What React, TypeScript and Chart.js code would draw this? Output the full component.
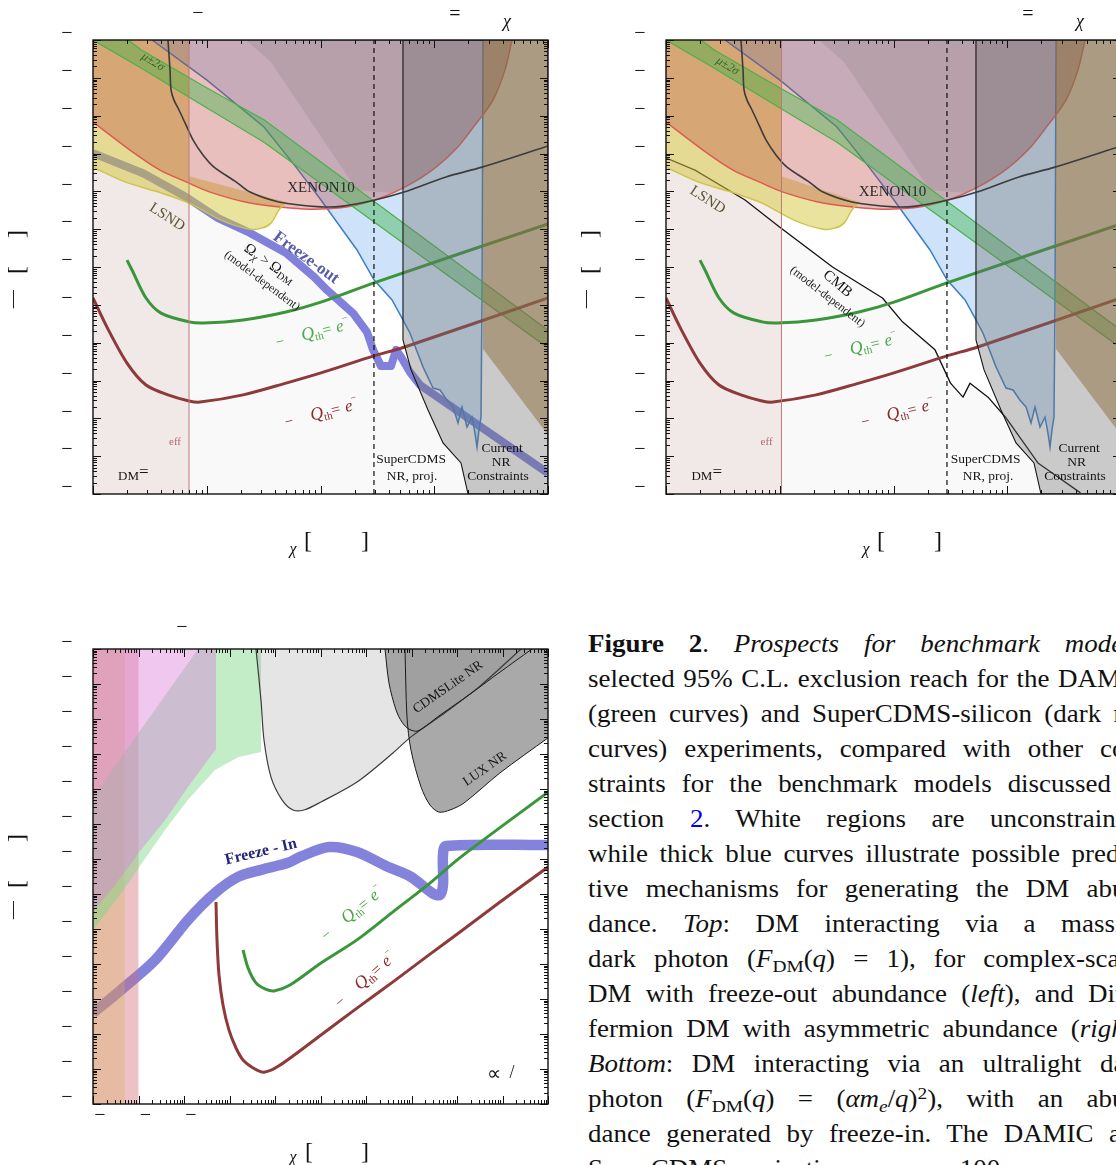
import React, { useEffect, useRef } from "react";
import { Chart, registerables } from "chart.js";

Chart.register(...registerables);

const SERIF = '"Liberation Serif", "Times New Roman", serif';

// ---------------------------------------------------------------------------
// Axis ranges, in decades (log10). Masses in MeV, cross-sections in cm^2.
// ---------------------------------------------------------------------------
const topMassDecades = [0, 4];
const topSigmaDecades = [-46, -34];
const bottomMassDecades = [-3, 7];
const bottomSigmaDecades = [-45, -32];

// ---------------------------------------------------------------------------
// Top panels (heavy dark photon). Every pair below is log10(m), log10(sigma).
// ---------------------------------------------------------------------------
const nEffScalar = 0.844;
const nEffDirac = 1.015;
const superCdmsNrProj = 2.47;

const xenon10M = [0.659, 0.677, 0.686, 0.712, 0.756, 0.818, 0.879, 0.967, 1.064, 1.257, 1.38, 1.635, 2.004, 2.198, 2.479, 2.734, 3.103, 3.42, 4];
const xenon10S = [-34, -34.79, -35.32, -35.59, -35.85, -36.25, -36.64, -37.04, -37.36, -37.75, -38.02, -38.28, -38.41, -38.39, -38.23, -38.02, -37.62, -37.36, -36.8];

const redRegionM = [0, 0.325, 0.589, 0.818, 1.029, 1.38, 1.732, 2.004, 2.321, 2.637, 2.945, 3.182, 3.358, 3.516, 3.622, 3.684];
const redRegionS = [-36.17, -36.91, -37.44, -37.75, -38.02, -38.31, -38.44, -38.47, -38.36, -38.04, -37.52, -36.91, -36.25, -35.59, -34.79, -34];

const lsndEdgeM = [0, 0.281, 0.598, 0.844, 1.125, 1.38, 1.486, 1.565, 1.635, 1.697];
const lsndEdgeS = [-37.36, -37.75, -38.04, -38.31, -38.76, -39.0, -38.97, -38.84, -38.49, -38.28];
const lsndCapS = [-37.6, -34, -34];

const darkGrayM = [1.345, 1.565, 2.321, 2.637, 2.945, 3.182, 3.358, 3.516, 3.622, 3.684];
const darkGrayS = [-34, -34.58, -37.97, -38.04, -37.52, -36.91, -36.25, -35.59, -34.79, -34];

const bandUpperM = [0.308, 0.422, 1.002, 1.503, 4];
const bandUpperS = [-34, -34.26, -35.27, -36.11, -41.67];
const bandLowerM = [0, 0.422, 1.002, 1.503, 4];
const bandLowerS = [-34, -34.74, -35.8, -36.7, -42.14];

const blueM = [0.519, 1.002, 1.503, 1.785, 2.004, 2.321, 2.47, 2.629, 2.725, 2.787, 2.901, 2.989, 3.051, 3.112, 3.165, 3.209, 3.244, 3.288, 3.332, 3.358, 3.376, 3.393, 3.411, 3.42, 3.429];
const blueS = [-34, -35.06, -36.3, -37.36, -38.23, -39.55, -40.34, -40.87, -41.4, -41.75, -42.64, -43.2, -43.25, -43.52, -43.7, -44.12, -43.7, -44.23, -43.97, -44.39, -44.76, -44.31, -43.97, -40.87, -34];

const nrM = [2.725, 2.725, 2.796, 2.945, 3.077, 3.235, 3.297, 4, 4];
const nrS = [-34, -41.93, -42.72, -43.78, -44.65, -45.18, -46, -46, -34];

const brownM = [3.429, 4, 4, 3.429];
const brownS = [-34, -34, -44.44, -42.17];

const freezeOutM = [0, 0.44, 0.818, 1.099, 1.38, 1.697, 1.943, 2.057, 2.286, 2.409, 2.462, 2.532, 2.62, 2.664, 2.708, 2.787, 2.875, 4];
const freezeOutS = [-36.99, -37.52, -38.15, -38.71, -39.1, -39.63, -40.26, -40.61, -41.22, -41.72, -42.19, -42.62, -42.62, -42.19, -42.38, -42.78, -43.12, -45.45];

const cmbM = [0.004, 0.255, 0.695, 0.998, 1.464, 1.903, 2.079, 2.365, 2.501, 2.611, 2.673, 2.831, 2.985, 3.27, 3.644];
const cmbS = [-37.12, -37.44, -38.23, -38.94, -40.0, -40.82, -41.45, -42.19, -43.07, -43.44, -43.07, -43.44, -43.97, -45.18, -45.97];

const damicTopM = [0.299, 0.343, 0.466, 0.598, 0.844, 0.976, 1.319, 1.697, 2.004, 2.47, 4];
const damicTopS = [-39.82, -40.08, -40.82, -41.22, -41.45, -41.48, -41.4, -41.19, -40.93, -40.42, -38.86];

const scdmsTopM = [0, 0.123, 0.299, 0.466, 0.659, 0.844, 0.941, 1.319, 1.697, 2.004, 2.47, 2.734, 4];
const scdmsTopS = [-40.82, -41.59, -42.54, -43.12, -43.38, -43.54, -43.57, -43.38, -43.07, -42.8, -42.35, -42.12, -40.82];

// ---------------------------------------------------------------------------
// Bottom panel (ultralight dark photon, freeze-in).
// ---------------------------------------------------------------------------
const pinkBandM = [-3, -2];
const tanBandM = [-3, -2.303];

const greenRegionM = [-3, -2.0, -0.692, 0.692, 0.692, 0.187, -0.319, -0.912, -1.418, -2.0, -2.407, -3];
const greenRegionS = [-36.23, -34.4, -32, -32, -34.94, -35.09, -35.46, -36.31, -37.17, -38.26, -39.03, -40.03];

const violetRegionM = [-3, -0.297, -0.297, -0.912, -1.418, -2.0, -2.516, -3];
const violetRegionS = [-32, -32, -34.86, -35.94, -36.89, -37.83, -38.74, -39.51];

const xenonNrM = [0.582, 0.692, 0.758, 0.912, 1.154, 1.396, 1.637, 2.011, 2.802, 3.593, 3.989, 4.758, 5.505, 6.407];
const xenonNrS = [-32, -33.46, -34.6, -35.66, -36.31, -36.6, -36.6, -36.37, -35.8, -34.97, -34.51, -33.8, -33.06, -32];

const cdmsLiteM = [3.418, 3.505, 3.659, 3.791, 3.945, 4.143, 4.626, 5.286, 5.945, 6.648];
const cdmsLiteS = [-32, -32.97, -33.74, -34.09, -34.29, -34.34, -33.89, -33.29, -32.66, -32];

const luxM = [3.857, 3.901, 3.989, 4.209, 4.407, 4.604, 4.846, 5.154, 5.945, 7];
const luxS = [-32, -33.94, -34.89, -35.94, -36.46, -36.66, -36.6, -36.4, -35.54, -34.54];

const freezeInM = [-3, -2.385, -1.637, -0.912, -0.319, 0.187, 0.692, 1.286, 1.549, 2.187, 2.802, 3.44, 3.989, 4.451, 4.626, 4.692, 4.692, 4.758, 7];
const freezeInS = [-42.4, -41.74, -40.89, -39.74, -38.97, -38.51, -38.31, -38.11, -37.94, -37.66, -37.8, -38.2, -38.51, -38.97, -39.03, -38.74, -37.89, -37.63, -37.6];

const damicBottomM = [0.297, 0.407, 0.582, 0.78, 0.978, 1.33, 2.011, 2.802, 3.593, 4.385, 5.088, 7];
const damicBottomS = [-40.6, -41.11, -41.54, -41.71, -41.77, -41.6, -40.97, -40.31, -39.51, -38.71, -37.94, -36.09];

const scdmsBottomM = [-0.297, -0.275, -0.231, -0.143, -0.011, 0.143, 0.297, 0.56, 0.758, 1.088, 2.011, 2.802, 3.593, 4.385, 5.154, 5.945, 7];
const scdmsBottomS = [-39.23, -40.31, -41.31, -42.17, -42.89, -43.4, -43.74, -44.0, -44.09, -43.91, -43.03, -42.26, -41.51, -40.74, -40.0, -39.23, -38.23];

// ---------------------------------------------------------------------------
// Dataset helpers
// ---------------------------------------------------------------------------
type P = { x: number; y: number };
const pts = (m: number[], s: number[]): P[] => m.map((v, i) => ({ x: 10 ** v, y: 10 ** s[i] }));
const closed = (m: number[], s: number[]): P[] => {
  const p = pts(m, s);
  p.push({ ...p[0] });
  return p;
};
const box = (m: number[], s: number[]): P[] => closed([m[0], m[1], m[1], m[0]], [s[0], s[0], s[1], s[1]]);
const vline = (m: number, s: number[]): P[] => pts([m, m], s);

function region(data: P[], bg: string, extra: any = {}) {
  return { data, backgroundColor: bg, borderColor: "rgba(0,0,0,0)", borderWidth: 0, fill: "shape", tension: 0, pointRadius: 0, ...extra };
}
function curve(data: P[], color: string, width: number, extra: any = {}) {
  return {
    data,
    borderColor: color,
    borderWidth: width,
    backgroundColor: "rgba(0,0,0,0)",
    fill: false,
    tension: 0.3,
    pointRadius: 0,
    borderJoinStyle: "round",
    borderCapStyle: "butt",
    ...extra,
  };
}
// layers listed bottom -> top
const stack = (layers: any[]) => layers.map((d, i) => ({ ...d, order: layers.length - i }));

function topLayers(variant: "freeze" | "asym") {
  const nEff = variant === "freeze" ? nEffScalar : nEffDirac;
  const sRange = topSigmaDecades;
  const relic =
    variant === "freeze"
      ? curve(pts(freezeOutM, freezeOutS), "#8181db", 8, { fill: "start", backgroundColor: "rgba(0,0,0,0.022)", tension: 0 })
      : curve(pts(cmbM, cmbS), "#111111", 1.3, { fill: "start", backgroundColor: "rgba(0,0,0,0.022)", tension: 0 });
  const bandPoly = closed([...bandUpperM, ...bandLowerM.slice().reverse()], [...bandUpperS, ...bandLowerS.slice().reverse()]);
  return stack([
    relic,
    region(box([topMassDecades[0], nEff], sRange), "rgba(150,60,60,0.09)"),
    region(closed([...lsndEdgeM, nEff, nEff, topMassDecades[0]], [...lsndEdgeS, ...lsndCapS]), "rgba(212,200,60,0.5)"),
    region(closed(blueM, blueS), "rgba(60,140,230,0.25)", { borderColor: "#3d7fc4", borderWidth: 1.5 }),
    curve(pts(redRegionM, redRegionS), "#de5b52", 1.5, { fill: "end", backgroundColor: "rgba(185,60,55,0.33)" }),
    region(closed(darkGrayM, darkGrayS), "rgba(120,115,115,0.2)"),
    region(bandPoly, "rgba(60,180,70,0.42)"),
    curve(pts(bandUpperM, bandUpperS), "#4cb04c", 1.2, { tension: 0 }),
    curve(pts(bandLowerM, bandLowerS), "#4cb04c", 1.2, { tension: 0 }),
    curve(pts(damicTopM, damicTopS), "#3a963a", 3),
    curve(pts(scdmsTopM, scdmsTopS), "#8e3a3a", 3),
    region(closed(nrM, nrS), "rgba(110,110,110,0.37)", { borderColor: "#151515", borderWidth: 1.1 }),
    region(closed(brownM, brownS), "rgba(140,110,60,0.5)"),
    curve(pts(lsndEdgeM, lsndEdgeS), "#cdc447", 1.5),
    curve(pts(xenon10M, xenon10S), "#3c3c3c", 1.6),
    curve(vline(nEff, sRange), "#c07878", 1, { tension: 0 }),
    curve(vline(superCdmsNrProj, sRange), "#111111", 1.2, { tension: 0, borderDash: [5, 4] }),
  ]);
}

function bottomLayers() {
  const sRange = bottomSigmaDecades;
  return stack([
    curve(pts(freezeInM, freezeInS), "#8383dc", 10.5, { tension: 0.3 }),
    region(box(pinkBandM, sRange), "rgba(210,110,120,0.42)"),
    region(box(tanBandM, sRange), "rgba(215,175,95,0.35)"),
    region(closed(greenRegionM, greenRegionS), "rgba(120,215,130,0.45)"),
    region(closed(violetRegionM, violetRegionS), "rgba(220,130,220,0.45)"),
    curve(pts(xenonNrM, xenonNrS), "rgba(0,0,0,0)", 0, { fill: "end", backgroundColor: "rgba(150,150,150,0.25)" }),
    curve(pts(cdmsLiteM, cdmsLiteS), "rgba(0,0,0,0)", 0, { fill: "end", backgroundColor: "rgba(160,160,160,0.9)" }),
    curve(pts(luxM, luxS), "rgba(0,0,0,0)", 0, { fill: "end", backgroundColor: "rgba(160,160,160,0.9)" }),
    curve(pts(xenonNrM, xenonNrS), "#3a3a3a", 1.2),
    curve(pts(cdmsLiteM, cdmsLiteS), "#1a1a1a", 1),
    curve(pts(luxM, luxS), "#1a1a1a", 1),
    curve(pts(damicBottomM, damicBottomS), "#3a963a", 3),
    curve(pts(scdmsBottomM, scdmsBottomS), "#8e3a3a", 3),
  ]);
}

// ---------------------------------------------------------------------------
// Text annotations
// ---------------------------------------------------------------------------
type Seg = { t: string; size: number; style?: string; weight?: string; dy?: number; gap?: number };
type Label =
  | { kind: "text"; text: string; m: number; s: number; angle?: number; size: number; style?: string; weight?: string; color: string }
  | { kind: "rich"; segs: Seg[]; m: number; s: number; angle?: number; color: string; align?: "left" | "center"; dy?: number };

const fontOf = (size: number, style = "", weight = "") => `${style} ${weight} ${size}px ${SERIF}`.trim();

const qSegs: Seg[] = [
  { t: "\u2212", size: 15, gap: 18 },
  { t: "Q", size: 18, style: "italic" },
  { t: "th", size: 11, dy: 3 },
  { t: "= ", size: 16, gap: 1 },
  { t: "e", size: 17, style: "italic" },
  { t: "\u2212", size: 10, dy: -9 },
];
const omegaSegs: Seg[] = [
  { t: "\u03a9", size: 15 },
  { t: "\u03c7", size: 11, style: "italic", dy: 3 },
  { t: " > ", size: 14 },
  { t: "\u03a9", size: 15 },
  { t: "DM", size: 10, dy: 3 },
];
const dmEqSegs: Seg[] = [
  { t: "DM", size: 13 },
  { t: "=", size: 17, dy: -3 },
];
const GREEN_TXT = "#4aa84a";
const RED_TXT = "#8b2c2c";
const INK = "#151515";

const topLeftLabels: Label[] = [
  { kind: "text", text: "XENON10", m: 2.004, s: -37.91, size: 15, color: "#2a2a2a" },
  { kind: "text", text: "LSND", m: 0.651, s: -38.68, angle: 33, size: 15, color: "#5a5833" },
  { kind: "text", text: "\u03bc\u00b12\u03c3", m: 0.527, s: -34.58, angle: 31, size: 12, style: "italic", color: "#2c662c" },
  { kind: "text", text: "Freeze-out", m: 1.873, s: -39.76, angle: 36, size: 17, weight: "bold", color: "#5a5aaa" },
  { kind: "rich", segs: omegaSegs, m: 1.556, s: -39.89, angle: 35, color: INK, align: "center", dy: 5 },
  { kind: "text", text: "(model-dependent)", m: 1.486, s: -40.37, angle: 37, size: 12, color: "#222" },
  { kind: "rich", segs: qSegs, m: 1.618, s: -42.12, angle: -14, color: GREEN_TXT },
  { kind: "rich", segs: qSegs, m: 1.697, s: -44.23, angle: -14, color: RED_TXT },
  { kind: "text", text: "eff", m: 0.721, s: -44.63, size: 11, color: "#b36b6b" },
  { kind: "rich", segs: dmEqSegs, m: 0.22, s: -45.63, color: INK },
  { kind: "text", text: "SuperCDMS", m: 2.796, s: -45.1, size: 13.5, color: INK },
  { kind: "text", text: "NR, proj.", m: 2.804, s: -45.53, size: 13.5, color: INK },
  { kind: "text", text: "Current", m: 3.596, s: -44.79, size: 13.5, color: INK },
  { kind: "text", text: "NR", m: 3.587, s: -45.16, size: 13.5, color: INK },
  { kind: "text", text: "Constraints", m: 3.56, s: -45.53, size: 13.5, color: INK },
];

const topRightLabels: Label[] = [
  { kind: "text", text: "XENON10", m: 1.991, s: -38.02, size: 15, color: "#2a2a2a" },
  { kind: "text", text: "LSND", m: 0.365, s: -38.23, angle: 33, size: 15, color: "#5a5833" },
  { kind: "text", text: "\u03bc\u00b12\u03c3", m: 0.541, s: -34.69, angle: 31, size: 12, style: "italic", color: "#2c662c" },
  { kind: "text", text: "CMB", m: 1.508, s: -40.45, angle: 40, size: 15, color: INK },
  { kind: "text", text: "(model-dependent)", m: 1.42, s: -40.79, angle: 38, size: 12, color: "#222" },
  { kind: "rich", segs: qSegs, m: 1.402, s: -42.49, angle: -14, color: GREEN_TXT },
  { kind: "rich", segs: qSegs, m: 1.727, s: -44.23, angle: -14, color: RED_TXT },
  { kind: "text", text: "eff", m: 0.884, s: -44.63, size: 11, color: "#b36b6b" },
  { kind: "rich", segs: dmEqSegs, m: 0.224, s: -45.63, color: INK },
  { kind: "text", text: "SuperCDMS", m: 2.809, s: -45.1, size: 13.5, color: INK },
  { kind: "text", text: "NR, proj.", m: 2.831, s: -45.53, size: 13.5, color: INK },
  { kind: "text", text: "Current", m: 3.631, s: -44.79, size: 13.5, color: INK },
  { kind: "text", text: "NR", m: 3.609, s: -45.16, size: 13.5, color: INK },
  { kind: "text", text: "Constraints", m: 3.596, s: -45.53, size: 13.5, color: INK },
];

const bottomLabels: Label[] = [
  { kind: "text", text: "Freeze - In", m: 0.692, s: -37.8, angle: -13.5, size: 16, weight: "bold", color: "#25257a" },
  { kind: "text", text: "CDMSLite NR", m: 4.802, s: -33.09, angle: -35, size: 13.5, color: INK },
  { kind: "text", text: "LUX NR", m: 5.615, s: -35.43, angle: -35, size: 13.5, color: INK },
  { kind: "rich", segs: qSegs, m: 2.121, s: -40.34, angle: -39, color: GREEN_TXT },
  { kind: "rich", segs: qSegs, m: 2.429, s: -42.26, angle: -41, color: RED_TXT },
  { kind: "text", text: "\u221d", m: 5.813, s: -44.17, size: 20, color: INK },
  { kind: "text", text: "/", m: 6.209, s: -44.11, size: 18, color: INK },
];

// Axis / title glyphs placed relative to the plot frame
type Glyph = { t: string; ref: "top" | "bottom"; dx: number; dy: number; size: number; italic?: boolean; rot?: number };
const topYTitle: Glyph[] = [
  { t: "]", ref: "top", dx: -75, dy: 194, size: 24, rot: -90 },
  { t: "[", ref: "top", dx: -75, dy: 230, size: 24, rot: -90 },
  { t: "\u2014", ref: "top", dx: -80, dy: 259, size: 18, rot: -90 },
];
const topXTitle: Glyph[] = [
  { t: "\u03c7", ref: "bottom", dx: 200, dy: 56, size: 16, italic: true },
  { t: "[", ref: "bottom", dx: 215, dy: 48, size: 24 },
  { t: "]", ref: "bottom", dx: 272, dy: 48, size: 24 },
];
const topTitleTail: Glyph[] = [
  { t: "=", ref: "top", dx: 362, dy: -25, size: 20 },
  { t: "\u03c7", ref: "top", dx: 414, dy: -18, size: 18, italic: true },
];
const topLeftGlyphs: Glyph[] = [{ t: "\u2212", ref: "top", dx: 105, dy: -26, size: 20 }, ...topTitleTail, ...topYTitle, ...topXTitle];
const topRightGlyphs: Glyph[] = [...topTitleTail, ...topYTitle, ...topXTitle];
const bottomGlyphs: Glyph[] = [
  { t: "\u2212", ref: "top", dx: 89, dy: -21, size: 20 },
  { t: "]", ref: "top", dx: -75, dy: 189, size: 24, rot: -90 },
  { t: "[", ref: "top", dx: -75, dy: 235, size: 24, rot: -90 },
  { t: "\u2014", ref: "top", dx: -80, dy: 261, size: 18, rot: -90 },
  { t: "\u03c7", ref: "bottom", dx: 200, dy: 54, size: 16, italic: true },
  { t: "[", ref: "bottom", dx: 216, dy: 49, size: 24 },
  { t: "]", ref: "bottom", dx: 272, dy: 49, size: 24 },
];

// ---------------------------------------------------------------------------
// Panel description
// ---------------------------------------------------------------------------
type PanelSpec = {
  left: number;
  top: number;
  width: number;
  height: number;
  padding: { left: number; top: number; right: number; bottom: number };
  xDecades: number[];
  yDecades: number[];
  xDashDecades: number[];
  datasets: any[];
  labels: Label[];
  glyphs: Glyph[];
};

function drawRich(ctx: CanvasRenderingContext2D, segs: Seg[], align: "left" | "center", dy0: number) {
  const widths = segs.map((s) => {
    ctx.font = fontOf(s.size, s.style, s.weight);
    return ctx.measureText(s.t).width + (s.gap || 0);
  });
  let cx = align === "center" ? -widths.reduce((a, b) => a + b, 0) / 2 : 0;
  segs.forEach((s, i) => {
    ctx.font = fontOf(s.size, s.style, s.weight);
    ctx.fillText(s.t, cx, (s.dy || 0) + dy0);
    cx += widths[i];
  });
}

function decorPlugin(spec: PanelSpec) {
  return {
    id: "panelDecor",
    afterDatasetsDraw(chart: any) {
      const { ctx } = chart;
      const xs = chart.scales.x;
      const ys = chart.scales.y;
      ctx.save();
      for (const lb of spec.labels) {
        const px = xs.getPixelForValue(10 ** lb.m);
        const py = ys.getPixelForValue(10 ** lb.s);
        ctx.save();
        ctx.translate(px, py);
        if (lb.angle) ctx.rotate((lb.angle * Math.PI) / 180);
        ctx.fillStyle = lb.color;
        if (lb.kind === "text") {
          ctx.font = fontOf(lb.size, lb.style, lb.weight);
          ctx.textAlign = "center";
          ctx.textBaseline = "middle";
          ctx.fillText(lb.text, 0, 0);
        } else {
          ctx.textAlign = "left";
          ctx.textBaseline = "alphabetic";
          drawRich(ctx, lb.segs, lb.align || "left", lb.dy || 0);
        }
        ctx.restore();
      }
      ctx.restore();
    },
    afterDraw(chart: any) {
      const { ctx, chartArea: a } = chart;
      const xs = chart.scales.x;
      const ys = chart.scales.y;
      ctx.save();
      ctx.strokeStyle = "#111";
      ctx.lineWidth = 1;
      ctx.beginPath();
      const [x0, x1] = spec.xDecades;
      for (let k = x0; k <= x1; k++) {
        for (let m = 1; m <= 9; m++) {
          if (k === x1 && m > 1) break;
          const p = Math.round(xs.getPixelForValue(m * 10 ** k)) + 0.5;
          const len = m === 1 ? 8 : 4;
          ctx.moveTo(p, a.bottom);
          ctx.lineTo(p, a.bottom - len);
          ctx.moveTo(p, a.top);
          ctx.lineTo(p, a.top + len);
        }
      }
      const [y0, y1] = spec.yDecades;
      for (let k = y0; k <= y1; k++) {
        for (let m = 1; m <= 9; m++) {
          if (k === y1 && m > 1) break;
          const p = Math.round(ys.getPixelForValue(m * 10 ** k)) + 0.5;
          const len = m === 1 ? 8 : 4;
          ctx.moveTo(a.left, p);
          ctx.lineTo(a.left + len, p);
          ctx.moveTo(a.right, p);
          ctx.lineTo(a.right - len, p);
        }
      }
      ctx.stroke();
      ctx.lineWidth = 1.4;
      ctx.strokeRect(a.left, a.top, a.right - a.left, a.bottom - a.top);

      // tick labels (only the minus signs of the exponents are set)
      ctx.fillStyle = "#111";
      ctx.font = fontOf(20);
      ctx.textAlign = "center";
      ctx.textBaseline = "middle";
      for (let k = y0; k <= y1; k++) {
        const p = ys.getPixelForValue(10 ** k);
        ctx.fillText("\u2212", a.left - 26, p - 6);
      }
      for (const k of spec.xDashDecades) {
        const p = xs.getPixelForValue(10 ** k);
        ctx.fillText("\u2212", p + 7, a.bottom + 12);
      }

      // titles
      for (const g of spec.glyphs) {
        const gx = a.left + g.dx;
        const gy = (g.ref === "bottom" ? a.bottom : a.top) + g.dy;
        ctx.save();
        ctx.translate(gx, gy);
        if (g.rot) ctx.rotate((g.rot * Math.PI) / 180);
        ctx.font = fontOf(g.size, g.italic ? "italic" : "");
        ctx.fillText(g.t, 0, 0);
        ctx.restore();
      }
      ctx.restore();
    },
  };
}

function Panel({ spec }: { spec: PanelSpec }) {
  const ref = useRef<HTMLCanvasElement>(null);
  useEffect(() => {
    const canvas = ref.current;
    if (!canvas) return;
    const chart = new Chart(canvas, {
      type: "line",
      data: { datasets: spec.datasets },
      options: {
        animation: false,
        responsive: false,
        devicePixelRatio: 1,
        events: [],
        layout: { padding: spec.padding },
        plugins: { legend: { display: false }, tooltip: { enabled: false }, title: { display: false } },
        elements: { point: { radius: 0, hoverRadius: 0 } },
        scales: {
          x: { type: "logarithmic", min: 10 ** spec.xDecades[0], max: 10 ** spec.xDecades[1], display: false },
          y: { type: "logarithmic", min: 10 ** spec.yDecades[0], max: 10 ** spec.yDecades[1], display: false },
        },
      } as any,
      plugins: [decorPlugin(spec) as any],
    });
    return () => chart.destroy();
  }, [spec]);
  return (
    <canvas
      ref={ref}
      width={spec.width}
      height={spec.height}
      style={{ position: "absolute", left: spec.left, top: spec.top, width: spec.width, height: spec.height }}
    />
  );
}

const topPadding = { left: 93, top: 40, right: 18, bottom: 76 };

const topLeftSpec: PanelSpec = {
  left: 0,
  top: 0,
  width: 566,
  height: 570,
  padding: topPadding,
  xDecades: topMassDecades,
  yDecades: topSigmaDecades,
  xDashDecades: [],
  datasets: topLayers("freeze"),
  labels: topLeftLabels,
  glyphs: topLeftGlyphs,
};

const topRightSpec: PanelSpec = {
  ...topLeftSpec,
  left: 573,
  datasets: topLayers("asym"),
  labels: topRightLabels,
  glyphs: topRightGlyphs,
};

const bottomSpec: PanelSpec = {
  left: 0,
  top: 600,
  width: 566,
  height: 565,
  padding: { left: 93, top: 49, right: 18, bottom: 61 },
  xDecades: bottomMassDecades,
  yDecades: bottomSigmaDecades,
  xDashDecades: [-3, -2, -1],
  datasets: bottomLayers(),
  labels: bottomLabels,
  glyphs: bottomGlyphs,
};

// ---------------------------------------------------------------------------
// Caption
// ---------------------------------------------------------------------------
const subStyle: React.CSSProperties = { fontSize: "0.72em", verticalAlign: "-0.28em", lineHeight: 0 };
const supStyle: React.CSSProperties = { fontSize: "0.72em", verticalAlign: "0.45em", lineHeight: 0 };

const captionLines: React.ReactNode[] = [
  <><b>Figure 2</b>. <i>Prospects for benchmark models.</i></>,
  <>selected 95% C.L. exclusion reach for the DAMIC</>,
  <>(green curves) and SuperCDMS-silicon (dark red</>,
  <>curves) experiments, compared with other con-</>,
  <>straints for the benchmark models discussed in</>,
  <>section <span style={{ color: "#0000ee" }}>2</span>. White regions are unconstrained,</>,
  <>while thick blue curves illustrate possible predic-</>,
  <>tive mechanisms for generating the DM abun-</>,
  <>dance. <i>Top</i>: DM interacting via a massive</>,
  <>dark photon (<i>F</i><span style={subStyle}>DM</span>(<i>q</i>) = 1), for complex-scalar</>,
  <>DM with freeze-out abundance (<i>left</i>), and Dirac</>,
  <>fermion DM with asymmetric abundance (<i>right</i>).</>,
  <><i>Bottom</i>: DM interacting via an ultralight dark</>,
  <>photon (<i>F</i><span style={subStyle}>DM</span>(<i>q</i>) = (<i>{"\u03b1"}m</i><span style={subStyle}><i>e</i></span>/<i>q</i>)<span style={supStyle}>2</span>), with an abun-</>,
  <>dance generated by freeze-in. The DAMIC and</>,
  <>SuperCDMS projections assume 100</>,
];

const CAPTION_STRETCH = 1.1;

function Caption() {
  return (
    <div
      style={{
        position: "absolute",
        left: 588,
        top: 626,
        width: Math.round(560 / CAPTION_STRETCH),
        fontFamily: SERIF,
        fontSize: 24.5,
        lineHeight: "35px",
        color: "#111",
        transform: `scaleX(${CAPTION_STRETCH})`,
        transformOrigin: "0 0",
      }}
    >
      {captionLines.map((line, i) => (
        <div
          key={i}
          style={{
            whiteSpace: "nowrap",
            textAlign: "justify",
            textAlignLast: i === captionLines.length - 1 ? "left" : "justify",
            wordSpacing: i === captionLines.length - 1 ? 4 : 0,
          } as React.CSSProperties}
        >
          {line}
        </div>
      ))}
    </div>
  );
}

export default function App() {
  return (
    <div
      style={{
        position: "absolute",
        left: 0,
        top: 0,
        width: 1116,
        height: 1165,
        overflow: "hidden",
        background: "#ffffff",
      }}
    >
      <Panel spec={topLeftSpec} />
      <Panel spec={topRightSpec} />
      <Panel spec={bottomSpec} />
      <Caption />
    </div>
  );
}
